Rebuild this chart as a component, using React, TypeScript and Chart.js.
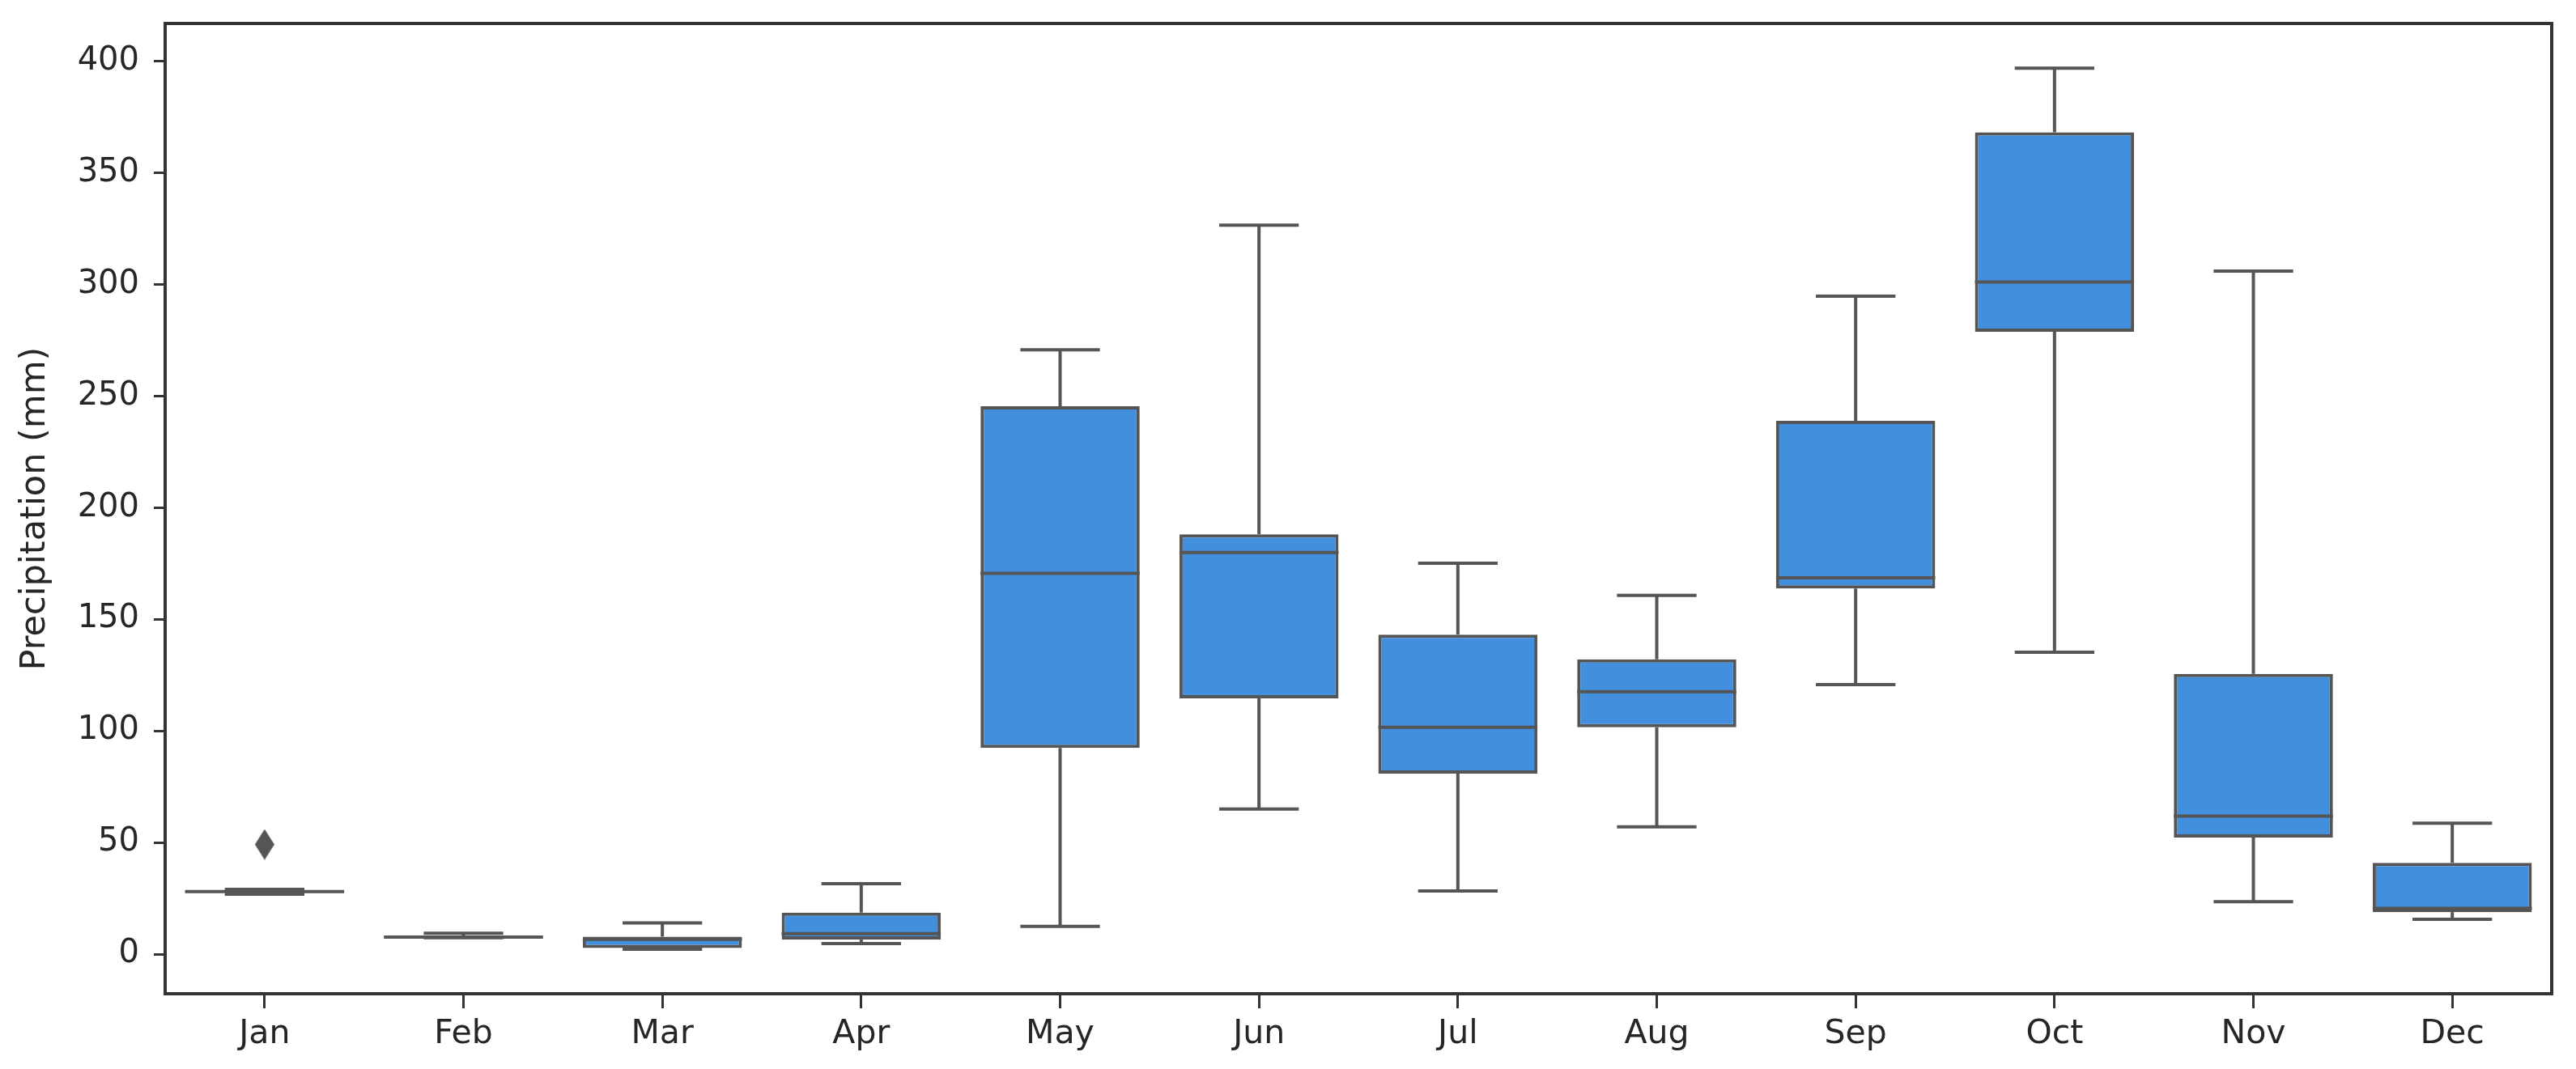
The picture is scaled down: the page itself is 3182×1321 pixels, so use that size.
import React, { useEffect, useRef } from 'react';
import { Chart, registerables } from 'chart.js';

Chart.register(...registerables);

// ---- data ----
const months = ['Jan', 'Feb', 'Mar', 'Apr', 'May', 'Jun', 'Jul', 'Aug', 'Sep', 'Oct', 'Nov', 'Dec'];
const whiskerLow = [26.8, 7.3, 2.2, 4.7, 12.4, 65.0, 28.3, 57.0, 120.7, 135.2, 23.5, 15.6];
const q1 = [27.8, 7.5, 2.7, 6.5, 92.3, 114.5, 80.8, 101.6, 163.7, 278.7, 52.2, 18.8];
const medians = [28.0, 7.6, 6.6, 9.2, 170.5, 179.8, 101.6, 117.5, 168.5, 301.0, 61.8, 20.5];
const q3 = [28.2, 7.8, 7.8, 18.6, 245.3, 188.0, 143.1, 132.0, 238.8, 368.0, 125.5, 40.9];
const whiskerHigh = [29.0, 9.3, 14.0, 31.5, 270.6, 326.4, 175.0, 160.6, 294.6, 396.7, 305.9, 58.6];
const outlierMonths = ['Jan'];
const outlierValues = [49.1];
const yTicks = [0, 50, 100, 150, 200, 250, 300, 350, 400];
const yMin = -17.75;
const yMax = 416.75;
const yTitle = 'Precipitation (mm)';

const FONT = "'DejaVu Sans', sans-serif";
const EDGE = '#555555';
const FILL = '#418fdd';
const AXIS = '#333333';
const TEXT = '#262626';

function makeDiamond(): HTMLCanvasElement {
  const c = document.createElement('canvas');
  c.width = 24;
  c.height = 38;
  const ctx = c.getContext('2d')!;
  ctx.fillStyle = EDGE;
  ctx.beginPath();
  ctx.moveTo(12, 0);
  ctx.lineTo(24, 19);
  ctx.lineTo(12, 38);
  ctx.lineTo(0, 19);
  ctx.closePath();
  ctx.fill();
  return c;
}

const boxPlugin = {
  id: 'boxWhiskers',
  afterDatasetsDraw(chart: any) {
    const { ctx } = chart;
    const x = chart.scales.x;
    const y = chart.scales.y;
    const meta = chart.getDatasetMeta(0);
    const line = (x1: number, y1: number, x2: number, y2: number) => {
      ctx.beginPath();
      ctx.moveTo(x1, y1);
      ctx.lineTo(x2, y2);
      ctx.stroke();
    };
    ctx.save();
    ctx.strokeStyle = EDGE;
    ctx.lineWidth = 4;
    ctx.lineCap = 'butt';
    months.forEach((_, i) => {
      const el = meta.data[i];
      const cx = x.getPixelForValue(i);
      const w = el.width;
      const yHi = y.getPixelForValue(whiskerHigh[i]);
      const yLo = y.getPixelForValue(whiskerLow[i]);
      const yQ1 = y.getPixelForValue(q1[i]);
      const yQ3 = y.getPixelForValue(q3[i]);
      const yMed = y.getPixelForValue(medians[i]);
      line(cx, yQ3, cx, yHi);
      line(cx, yQ1, cx, yLo);
      line(cx - w / 4, yHi, cx + w / 4, yHi);
      line(cx - w / 4, yLo, cx + w / 4, yLo);
      line(cx - w / 2, yMed, cx + w / 2, yMed);
    });
    const a = chart.chartArea;
    ctx.strokeStyle = AXIS;
    ctx.lineWidth = 4;
    line(a.left - 2, a.top, a.right + 2, a.top);
    line(a.right, a.top, a.right, a.bottom + 2);
    ctx.restore();
  },
};

export default function App() {
  const ref = useRef<HTMLCanvasElement>(null);

  useEffect(() => {
    if (!ref.current) return;
    const diamond = makeDiamond();
    const chart = new Chart(ref.current, {
      type: 'bar',
      data: {
        labels: months,
        datasets: [
          {
            type: 'bar',
            data: months.map((_, i) => [q1[i], q3[i]]) as any,
            backgroundColor: FILL,
            borderColor: EDGE,
            borderWidth: 4,
            borderSkipped: false,
            barPercentage: 0.8,
            categoryPercentage: 1.0,
          } as any,
          {
            type: 'line',
            data: outlierMonths.map((m, i) => ({ x: m, y: outlierValues[i] })) as any,
            showLine: false,
            pointStyle: diamond as any,
            pointRadius: 12,
            pointHoverRadius: 12,
          } as any,
        ],
      },
      options: {
        animation: false,
        responsive: true,
        maintainAspectRatio: false,
        devicePixelRatio: 1,
        layout: { padding: { top: 21, right: 22, left: 0, bottom: 0 } },
        plugins: {
          legend: { display: false },
          tooltip: { enabled: false },
        },
        scales: {
          x: {
            type: 'category',
            offset: true,
            afterFit: (s: any) => {
              s.height = 85;
              s.paddingLeft = 0;
              s.paddingRight = 0;
            },
            ticks: { font: { family: FONT, size: 41 }, color: TEXT, padding: 8 },
            grid: {
              drawOnChartArea: false,
              offset: false,
              tickLength: 18,
              tickWidth: 3,
              tickColor: AXIS,
            },
            border: { color: AXIS, width: 4 },
          },
          y: {
            type: 'linear',
            min: yMin,
            max: yMax,
            afterBuildTicks: (s: any) => {
              s.ticks = yTicks.map((v) => ({ value: v }));
            },
            afterFit: (s: any) => {
              s.width = 196;
              s.paddingTop = 0;
              s.paddingBottom = 0;
            },
            ticks: { font: { family: FONT, size: 40 }, color: TEXT, padding: 18 },
            grid: {
              drawOnChartArea: false,
              tickLength: 14,
              tickWidth: 3,
              tickColor: AXIS,
            },
            border: { color: AXIS, width: 4 },
            title: {
              display: true,
              text: yTitle,
              font: { family: FONT, size: 43 },
              color: TEXT,
              padding: { top: 10, bottom: 0 },
            },
          },
        },
      } as any,
      plugins: [boxPlugin],
    });
    return () => chart.destroy();
  }, []);

  return (
    <div style={{ width: 3166, height: 1305, position: 'relative' }}>
      <canvas ref={ref} style={{ display: 'block' }} />
    </div>
  );
}
